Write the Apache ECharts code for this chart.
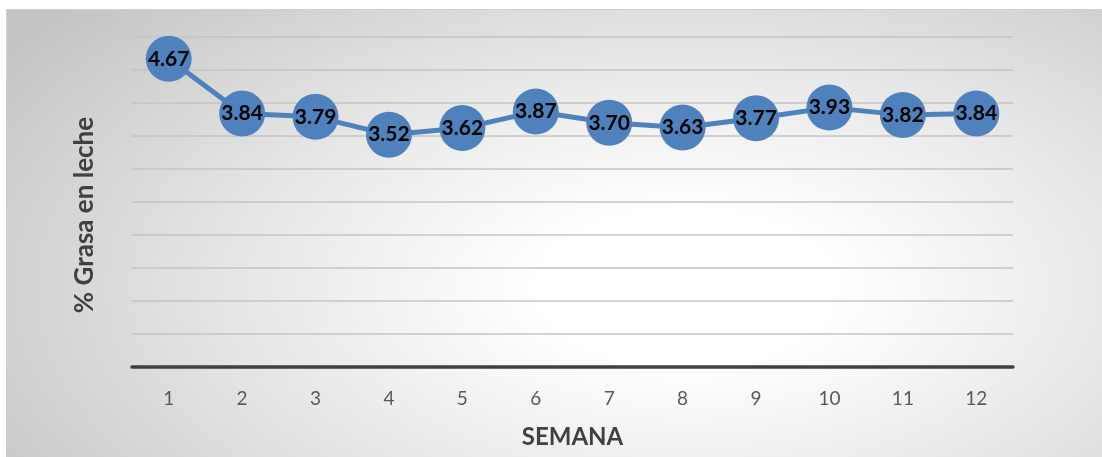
<!DOCTYPE html>
<html><head><meta charset="utf-8">
<script src="https://cdn.jsdelivr.net/npm/echarts@6/dist/echarts.min.js"></script>
<style>
html,body{margin:0;padding:0;background:#fff;}
#bg{position:absolute;left:6px;top:9px;width:1096px;height:448px;
background:radial-gradient(ellipse 75% 95% at 62% 62%, #ffffff 0%, #ffffff 18%, #e6e6e6 55%, #c4c4c4 100%);
border-top:1px solid #d0d0d0;border-left:1px solid #d0d0d0;box-sizing:border-box;}
#c{position:absolute;left:0;top:0;width:1102px;height:457px;}
</style></head>
<body>
<div id="bg"></div>
<div id="c"></div>
<script>
const semanas = ['1','2','3','4','5','6','7','8','9','10','11','12'];
const grasa = [4.67,3.84,3.79,3.52,3.62,3.87,3.70,3.63,3.77,3.93,3.82,3.84];
const xTitle = 'SEMANA';
const yTitle = '% Grasa en leche';

const chart = echarts.init(document.getElementById('c'), null, {renderer:'canvas'});
chart.setOption({
  backgroundColor: 'transparent',
  animation: false,
  grid: {left:132, right:89, top:37, bottom:90},
  xAxis: {
    type:'category', data: semanas, boundaryGap:true,
    axisLine:{show:true, lineStyle:{color:'#404040', width:3.5}},
    axisTick:{show:false},
    axisLabel:{color:'#595959', fontSize:19, fontFamily:'Lato, sans-serif', margin:22},
    name: xTitle, nameLocation:'middle', nameGap:58,
    nameTextStyle:{color:'#404040', fontSize:24, fontWeight:'bold', fontFamily:'Lato, sans-serif'}
  },
  yAxis: {
    type:'value', min:0, max:5, interval:0.5,
    axisLabel:{show:false}, axisLine:{show:false}, axisTick:{show:false},
    splitLine:{lineStyle:{color:'#c4c4c4', width:1.5}},
    name: yTitle, nameLocation:'middle', nameGap:34, nameRotate:90,
    nameTextStyle:{color:'#404040', fontSize:26, fontWeight:'bold', fontFamily:'Lato, sans-serif', padding:[0,26,0,0]}
  },
  series: [{
    type:'line', data: grasa,
    symbol:'circle', symbolSize:46,
    lineStyle:{color:'#4f81bd', width:5},
    itemStyle:{color:'#4f81bd'},
    label:{show:true, position:'inside', color:'#000', fontSize:21, fontWeight:'bold', fontFamily:'Lato, sans-serif',
      formatter: p => p.value.toFixed(2)}
  }]
});
</script>
</body></html>
